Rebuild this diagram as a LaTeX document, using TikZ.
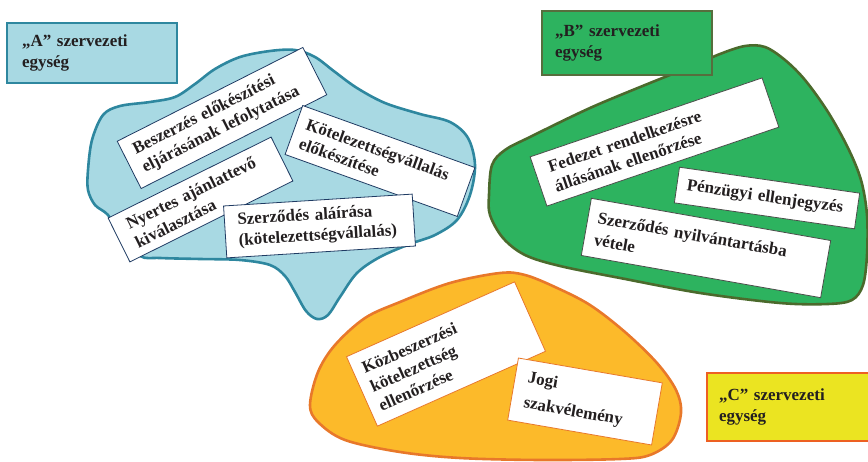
\documentclass[tikz,border=0pt]{standalone}
\usepackage{fontspec}
\setmainfont{Liberation Serif}
\hyphenpenalty=10000
\exhyphenpenalty=10000
\definecolor{inkc}{HTML}{231F20}
\definecolor{blueF}{HTML}{A8D9E3}
\definecolor{blueD}{HTML}{2E879F}
\definecolor{greenF}{HTML}{2DB35F}
\definecolor{greenD}{HTML}{4B6A2C}
\definecolor{orangeF}{HTML}{FCBA2A}
\definecolor{orangeD}{HTML}{E8782A}
\definecolor{yellowF}{HTML}{EBE421}
\definecolor{navyD}{HTML}{1F3B63}
\definecolor{grayD}{HTML}{4A4F4A}
\begin{document}
\begin{tikzpicture}[x=1pt,y=-1pt,
  txt/.style={font=\fontsize{17}{20.5}\selectfont\bfseries, text=inkc, align=left},
  card/.style={txt, draw, fill=white, line width=0.8pt, inner xsep=#1, inner ysep=2pt},
  cardA/.style={card=#1, draw=navyD},
  cardB/.style={card=#1, draw=grayD},
  cardC/.style={card=#1, draw=orangeD},
  unit/.style={txt, line width=1.3pt, inner xsep=#1, inner ysep=2pt},
  blob/.style={line width=2.6pt, line join=round}
]
\useasboundingbox (0,0) rectangle (868,462);

% unit areas
\draw[blob, draw=blueD, fill=blueF] plot[smooth cycle, tension=0.55] coordinates {
  (88,170) (92,140) (103,115) (120,106) (150,102) (175,97) (195,84) (215,69)
  (240,57) (270,51) (295,50) (315,57) (335,72) (357,88) (385,103) (420,114)
  (450,122) (468,138) (475,165) (470,195) (457,220) (435,235) (410,244)
  (380,257) (357,273) (340,297) (328,315) (317,319) (306,311) (295,292)
  (285,276) (270,265) (240,260) (200,259) (160,258) (140,256) (120,235)
  (108,215) (95,205) (88,190)};

\draw[blob, draw=greenD, fill=greenF] plot[smooth cycle, tension=0.55] coordinates {
  (489,195) (492,165) (505,150) (530,137) (590,108) (650,83) (690,67)
  (720,54) (745,46) (765,47) (785,60) (805,80) (828,112) (848,148)
  (861,180) (867,215) (867,255) (863,285) (852,300) (828,304) (780,303)
  (700,293) (620,278) (560,266) (525,255) (503,238) (490,215)};

\draw[blob, draw=orangeD, fill=orangeF] plot[smooth cycle, tension=0.55] coordinates {
  (310,405) (318,372) (335,345) (365,318) (400,302) (450,283) (500,273)
  (525,275) (555,287) (590,305) (625,332) (657,363) (676,390) (681,413)
  (672,440) (650,455) (620,459) (540,460) (460,458) (400,452) (345,440)
  (318,422)};

% unit labels
\node[unit=15pt, draw=blueD, fill=blueF, text width=140pt, minimum height=60pt]
  (unitA) at (92,53) {„A” szervezeti\\egység};
\node[unit=13pt, draw=greenD!80!gray, fill=greenF, text width=144pt, minimum height=64pt]
  (unitB) at (627,43) {„B” szervezeti\\egység};
\node[unit=12pt, draw=orangeD!80!red, fill=yellowF, text width=140pt, minimum height=68pt]
  (unitC) at (789,407) {„C” szervezeti\\egység};

% tasks of unit A
\node[cardA=11pt, rotate=26.8, text width=186pt, minimum height=53pt]
  (besz) at (222,118) {Beszerzés előkészítési\\eljárásának lefolytatása};
\node[cardA=10pt, rotate=-19.8, text width=163pt, minimum height=52pt]
  (kotel) at (380,161) {Kötelezettségvállalás\\előkészítése};
\node[cardA=14pt, rotate=26.4, text width=154pt, minimum height=49pt]
  (nyert) at (200.5,199.5) {Nyertes ajánlattevő\\kiválasztása};
\node[cardA=13pt, rotate=3.6, text width=163pt, minimum height=52pt]
  (szerz) at (319.5,226) {Szerződés aláírása\\(kötelezettségvállalás)};

% tasks of unit B
\node[cardB=14pt, rotate=18.8, text width=217pt, minimum height=52pt]
  (fed) at (654.5,142) {Fedezet rendelkezésre\\állásának ellenőrzése};
\node[cardB=10pt, rotate=-8.2, text width=162pt, minimum height=36pt]
  (penz) at (767,198) {Pénzügyi ellenjegyzés};
\node[cardB=10pt, rotate=-10, text width=223pt, minimum height=58pt]
  (nyilv) at (706,248) {Szerződés nyilvántartásba\\[1.5pt]vétele};

% tasks of unit C
\node[cardC=10pt, rotate=24, text width=164pt, minimum height=76pt]
  (kozb) at (446,354) {Közbeszerzési\\kötelezettség\\ellenőrzése};
\node[cardC=13pt, rotate=-9.8, text width=120pt, minimum height=63pt]
  (jogi) at (585,401.5) {Jogi\\[5pt]szakvélemény};
\end{tikzpicture}
\end{document}
